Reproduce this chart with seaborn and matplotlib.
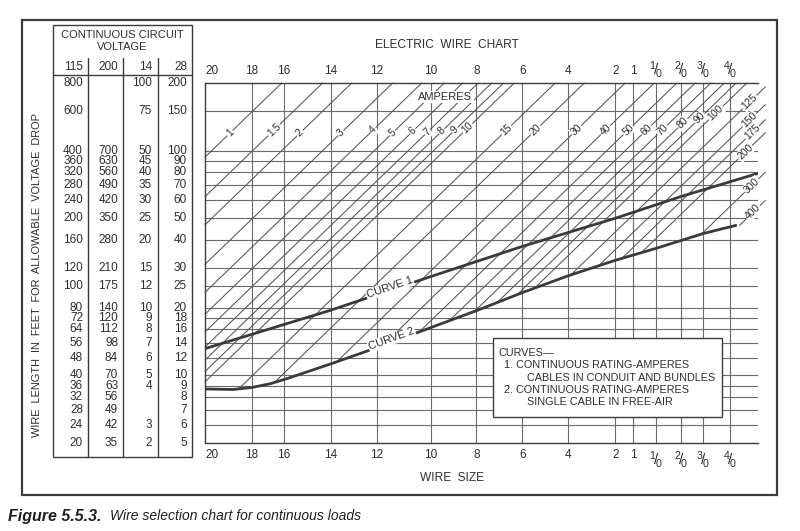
import numpy as np
import matplotlib
matplotlib.use("Agg")
import matplotlib.pyplot as plt
import seaborn as sns
from matplotlib.patches import Rectangle
from matplotlib.ticker import NullLocator
from matplotlib.transforms import blended_transform_factory

# ---------------- data ----------------
wire_sizes = ["20", "18", "16", "14", "12", "10", "8", "6", "4", "2", "1",
              "1/0", "2/0", "3/0", "4/0"]
# position of each wire size on the chart's (non-uniform) wire-size scale
wire_pos = [0.0, 2.02, 3.39, 5.41, 7.38, 9.70, 11.67, 13.65, 15.62, 17.64,
            18.41, 19.40, 20.47, 21.42, 22.58]
wire_pos_max = 23.78          # right edge of the grid
amp_line_end = 24.10          # ampere lines run a little past the grid
units_per_decade = 10.0       # slope of the constant-current lines

volt_headers = ["115", "200", "14", "28"]
len_115 = [800, 600, 400, 360, 320, 280, 240, 200, 160, 120, 100, 80, 72, 64,
           56, 48, 40, 36, 32, 28, 24, 20]
len_200 = ["", "", "700", "630", "560", "490", "420", "350", "280", "210",
           "175", "140", "120", "112", "98", "84", "70", "63", "56", "49",
           "42", "35"]
len_14 = ["100", "75", "50", "45", "40", "35", "30", "25", "20", "15", "12",
          "10", "9", "8", "7", "6", "5", "4", "", "", "3", "2"]
len_28 = ["200", "150", "100", "90", "80", "70", "60", "50", "40", "30", "25",
          "20", "18", "16", "14", "12", "10", "9", "8", "7", "6", "5"]

amps = ["1", "1.5", "2", "3", "4", "5", "6", "7", "8", "9", "10", "15", "20",
        "30", "40", "50", "60", "70", "80", "90", "100", "125", "150", "175",
        "200", "300", "400"]
# wire-scale position where each ampere line meets the 800 ft top line
amp_top_pos = [3.30, 5.06, 6.31, 8.07, 9.32, 10.29, 11.08, 11.75, 12.33, 12.84,
               13.30, 15.06, 16.31, 18.07, 19.32, 20.29, 21.08, 21.75, 22.33,
               22.84, 23.30, 24.27, 25.06, 25.73, 26.31, 28.07, 29.32]
# length (115 V scale) at which each ampere label sits
amp_label_len = [479, 494, 479, 479, 494, 479, 488, 484, 488, 494, 504, 494,
                 494, 494, 494, 494, 494, 494, 530, 558, 588, 658, 547, 483,
                 394, 280, 213]

curve1_pos = [0.0, 5.41, 9.70, 13.65, 17.64, 20.47, 23.78]
curve1_len = [52.6, 78, 110, 150, 200, 250, 317]
curve2_pos = [0.0, 1.2, 2.0, 2.8, 3.5, 5.41, 7.38, 9.70, 11.67, 13.65, 15.62,
              17.64, 19.40, 21.42, 22.83]
curve2_len = [34.8, 34.6, 35.3, 36.7, 38.6, 45.0, 53.1, 65.2, 77.6, 93.4, 111,
              130, 147, 171, 186]

legend_lines = ["CURVES\u2014",
                "1. CONTINUOUS RATING-AMPERES",
                "CABLES IN CONDUIT AND BUNDLES",
                "2. CONTINUOUS RATING-AMPERES",
                "SINGLE CABLE IN FREE-AIR"]

# ---------------- style ----------------
sns.set_theme(style="white")
plt.rcParams['font.family'] = ['Liberation Sans', 'DejaVu Sans']
plt.rcParams['mathtext.fontset'] = 'custom'
plt.rcParams['mathtext.rm'] = 'Liberation Sans'
plt.rcParams['mathtext.it'] = 'Liberation Sans:italic'
plt.rcParams['mathtext.bf'] = 'Liberation Sans:bold'
TXT = '#2e2e2e'
GRID = '#6a6a6a'
LINE = '#555555'
CURVE = '#3a3a3a'
FRAME = '#3c3c3c'

W, H = 800, 531
fig = plt.figure(figsize=(W / 100, H / 100), dpi=100)
fig.patch.set_facecolor('white')

# ---------------- main chart ----------------
ax = fig.add_axes([205 / W, 1 - 443 / H, 553 / W, 360 / H])
ax.set_facecolor('white')
ax.set_yscale('log')
ax.set_xlim(0, wire_pos_max)
ax.set_ylim(min(len_115), max(len_115))
ax.yaxis.set_major_locator(NullLocator())
ax.yaxis.set_minor_locator(NullLocator())

for v in len_115[1:-1]:
    ax.axhline(v, color=GRID, lw=0.8, zorder=1)
for p in wire_pos[1:]:
    ax.axvline(p, color=GRID, lw=0.8, zorder=1)

for s in ['left', 'top', 'bottom']:
    ax.spines[s].set_color(FRAME)
    ax.spines[s].set_linewidth(1.0)
ax.spines['right'].set_visible(False)

ax.set_xticks(wire_pos)
ax.set_xticklabels([s if '/' not in s else '' for s in wire_sizes])
ax.tick_params(axis='x', which='both', length=0, top=True, labeltop=True,
               bottom=True, labelbottom=True, labelsize=8.5,
               labelcolor=TXT, pad=4.3)
ax.xaxis.set_minor_locator(NullLocator())
first = ax.xaxis.get_major_ticks()[0]
first.label1.set_horizontalalignment('left')
first.label2.set_horizontalalignment('left')

# stacked fraction labels (1/0 ... 4/0) top and bottom, one text each
for p, s in zip(wire_pos, wire_sizes):
    if '/' not in s:
        continue
    num, den = s.split('/')
    frac = r'$\mathregular{^{%s}\!/\!_{%s}}$' % (num, den)
    for yb, dy in ((1, 14), (0, -16)):
        ax.annotate(frac, xy=(p, yb), xycoords=('data', 'axes fraction'),
                    xytext=(0, dy), textcoords='offset pixels',
                    ha='center', va='center', fontsize=11, color=TXT,
                    annotation_clip=False)

# curves
sns.lineplot(x=curve1_pos, y=curve1_len, ax=ax, color=CURVE, lw=2.0,
             estimator=None, sort=False, zorder=3, legend=False)
sns.lineplot(x=curve2_pos, y=curve2_len, ax=ax, color=CURVE, lw=2.0,
             estimator=None, sort=False, zorder=3, legend=False)
ax.set_xlabel('')
ax.set_ylabel('')
ax.set_xlim(0, wire_pos_max)
ax.set_ylim(min(len_115), max(len_115))

# constant-current (ampere) lines: from curve 2 (or left edge) up to the top
top_log = np.log10(max(len_115))
xs = np.linspace(0, amp_line_end, 4000)
c2_log = np.interp(xs, curve2_pos, np.log10(curve2_len))


def screen_angle(xa, ya, xb, yb):
    pa = ax.transData.transform((xa, ya))
    pb = ax.transData.transform((xb, yb))
    return np.degrees(np.arctan2(pb[1] - pa[1], pb[0] - pa[0]))


for a, xt, lab_len in zip(amps, amp_top_pos, amp_label_len):
    line_log = top_log + (xs - xt) / units_per_decade
    diff = line_log - c2_log
    x0 = max(0.0, float(np.interp(0.0, diff, xs)))
    x1 = min(xt, amp_line_end)
    y0 = 10 ** (top_log + (x0 - xt) / units_per_decade)
    y1 = 10 ** (top_log + (x1 - xt) / units_per_decade)
    ax.plot([x0, x1], [y0, y1], color=LINE, lw=0.75, zorder=2, clip_on=False)
    lx = xt + (np.log10(lab_len) - top_log) * units_per_decade
    ang = screen_angle(x0, y0, x1, y1)
    ax.text(lx, lab_len, a, rotation=ang, rotation_mode='anchor',
            ha='center', va='center', fontsize=7.5, color=TXT, zorder=4,
            clip_on=False,
            bbox=dict(fc='white', ec='none', pad=0.5))

ax.text(10.34, 693, "AMPERES", ha='center', va='center', fontsize=8,
        color=TXT, zorder=4, bbox=dict(fc='white', ec='none', pad=0.8))

# curve labels
for name, cpos, clen, xl in (("CURVE 1", curve1_pos, curve1_len, 7.94),
                             ("CURVE 2", curve2_pos, curve2_len, 8.03)):
    lg = np.log10(clen)
    yl = 10 ** np.interp(xl, cpos, lg)
    ya = 10 ** np.interp(xl - 1, cpos, lg)
    yb = 10 ** np.interp(xl + 1, cpos, lg)
    ang = screen_angle(xl - 1, ya, xl + 1, yb)
    ax.annotate(name, xy=(xl, yl), xytext=(0, 3), textcoords='offset pixels',
                rotation=ang, rotation_mode='anchor', ha='center',
                va='center', fontsize=8, color=TXT, zorder=5,
                bbox=dict(fc='white', ec='none', pad=0.6))

# legend box
lx0, lx1 = (493 - 205) / 553, (722 - 205) / 553
ly0, ly1 = (443 - 417) / 360, (443 - 338) / 360
ax.add_patch(Rectangle((lx0, ly0), lx1 - lx0, ly1 - ly0,
                       transform=ax.transAxes, fc='white', ec=FRAME, lw=1.0,
                       zorder=6))
legend_px = [(499, 353), (504, 365), (527, 378), (504, 390), (527, 402)]
for (px, py), txt in zip(legend_px, legend_lines):
    ax.text((px - 205) / 553, (443 - py) / 360, txt, transform=ax.transAxes,
            ha='left', va='center', fontsize=7.8, color=TXT, zorder=7)

# ---------------- voltage table ----------------
ax_t = fig.add_axes([53 / W, 1 - 443 / H, 139 / W, 360 / H], sharey=ax)
ax_t.axis('off')
tr = blended_transform_factory(ax_t.transAxes, ax_t.transData)
y_top = (443 - 25) / 360
y_bot = (443 - 457) / 360
y_hdr = (443 - 75) / 360
y_col = (443 - 58) / 360
ax_t.add_patch(Rectangle((0, y_bot), 1, y_top - y_bot,
                         transform=ax_t.transAxes, fill=False, ec=FRAME,
                         lw=1.0, clip_on=False))
ax_t.plot([0, 1], [y_hdr, y_hdr], transform=ax_t.transAxes, color=FRAME,
          lw=1.0, clip_on=False)
for cx in [(88 - 53) / 139, (123 - 53) / 139, (158 - 53) / 139]:
    ax_t.plot([cx, cx], [y_col, y_bot], transform=ax_t.transAxes,
              color=FRAME, lw=1.0, clip_on=False)
ax_t.text(0.5, (443 - 35) / 360, "CONTINUOUS CIRCUIT", transform=ax_t.transAxes,
          ha='center', va='center', fontsize=8, color=TXT)
ax_t.text(0.5, (443 - 47) / 360, "VOLTAGE", transform=ax_t.transAxes,
          ha='center', va='center', fontsize=8, color=TXT)
col_x = [(83 - 53) / 139, (118 - 53) / 139, (152 - 53) / 139,
         (187 - 53) / 139]
for cx, hd in zip(col_x, volt_headers):
    ax_t.text(cx, (443 - 67) / 360, hd, transform=ax_t.transAxes,
              ha='right', va='center', fontsize=8.5, color=TXT)
columns = [[str(v) for v in len_115], len_200, len_14, len_28]
for cx, col in zip(col_x, columns):
    for L, txt in zip(len_115, col):
        if txt:
            ax_t.text(cx, L, txt, transform=tr, ha='right', va='center',
                      fontsize=8.5, color=TXT)

# ---------------- titles, labels, frame ----------------
fig.text(37 / W, 1 - 275 / H,
         "WIRE  LENGTH  IN  FEET  FOR  ALLOWABLE  VOLTAGE  DROP",
         rotation=90, ha='center', va='center', fontsize=7.9, color=TXT)
fig.text(447 / W, 1 - 45 / H, "ELECTRIC  WIRE  CHART", ha='center',
         va='center', fontsize=8.6, color=TXT)
fig.text(452 / W, 1 - 478 / H, "WIRE  SIZE", ha='center', va='center',
         fontsize=8.6, color=TXT)
fig.add_artist(Rectangle((22 / W, 1 - 495 / H), (777 - 22) / W,
                         (495 - 20) / H, transform=fig.transFigure,
                         fill=False, ec=FRAME, lw=1.6))
fig.text(8 / W, 1 - 516 / H, "Figure 5.5.3.", fontsize=11.5,
         fontweight='bold', fontstyle='italic', color='#1e1e1e', ha='left',
         va='center')
fig.text(110 / W, 1 - 516 / H, "Wire selection chart for continuous loads",
         fontsize=10, fontstyle='italic', color='#1e1e1e', ha='left',
         va='center')

fig.savefig("out.png", dpi=100, facecolor='white')
